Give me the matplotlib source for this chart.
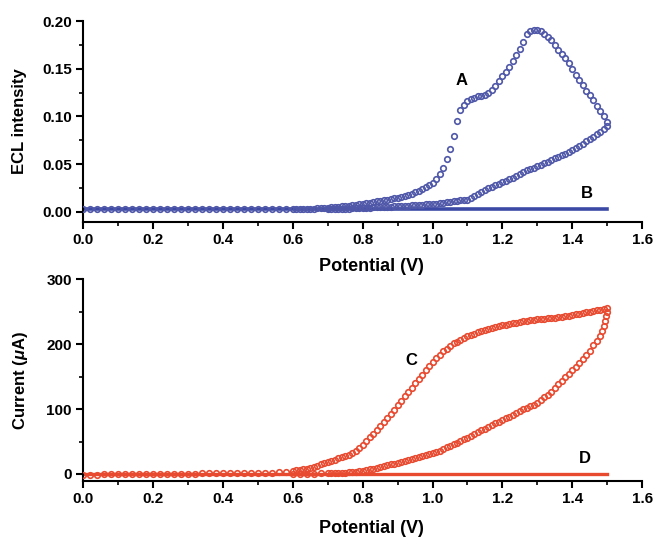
import matplotlib
matplotlib.use('Agg')
import matplotlib.pyplot as plt
import matplotlib.ticker as ticker

plt.rcParams['font.family'] = 'Liberation Sans'
plt.rcParams['font.weight'] = 'bold'
plt.rcParams['mathtext.fontset'] = 'custom'
plt.rcParams['mathtext.it'] = 'Liberation Sans:italic:bold'
plt.rcParams['mathtext.rm'] = 'Liberation Sans:bold'

# ECL curve A: forward scan 0 -> 1.5 V, then reverse 1.5 -> 0.7 V
ecl_a_v = [
    0.00, 0.02, 0.04, 0.06, 0.08, 0.10, 0.12, 0.14, 0.16, 0.18, 0.20, 0.22, 0.24, 0.26, 0.28,
    0.30, 0.32, 0.34, 0.36, 0.38, 0.40, 0.42, 0.44, 0.46, 0.48, 0.50, 0.52, 0.54, 0.56, 0.58,
    0.60, 0.61, 0.62, 0.63, 0.64, 0.65, 0.66, 0.67, 0.68, 0.69, 0.70, 0.71, 0.72, 0.73, 0.74,
    0.75, 0.76, 0.77, 0.78, 0.79, 0.80, 0.81, 0.82, 0.83, 0.84, 0.85, 0.86, 0.87, 0.88, 0.89,
    0.90, 0.91, 0.92, 0.93, 0.94, 0.95, 0.96, 0.97, 0.98, 0.99, 1.00, 1.01, 1.02, 1.03, 1.04,
    1.05, 1.06, 1.07, 1.08, 1.09, 1.10, 1.11, 1.12, 1.13, 1.14, 1.15, 1.16, 1.17, 1.18, 1.19,
    1.20, 1.21, 1.22, 1.23, 1.24, 1.25, 1.26, 1.27, 1.28, 1.29, 1.30, 1.31, 1.32, 1.33, 1.34,
    1.35, 1.36, 1.37, 1.38, 1.39, 1.40, 1.41, 1.42, 1.43, 1.44, 1.45, 1.46, 1.47, 1.48, 1.49,
    1.50,
    1.50, 1.49, 1.48, 1.47, 1.46, 1.45, 1.44, 1.43, 1.42, 1.41, 1.40, 1.39, 1.38, 1.37, 1.36,
    1.35, 1.34, 1.33, 1.32, 1.31, 1.30, 1.29, 1.28, 1.27, 1.26, 1.25, 1.24, 1.23, 1.22, 1.21,
    1.20, 1.19, 1.18, 1.17, 1.16, 1.15, 1.14, 1.13, 1.12, 1.11, 1.10, 1.09, 1.08, 1.07, 1.06,
    1.05, 1.04, 1.03, 1.02, 1.01, 1.00, 0.99, 0.98, 0.97, 0.96, 0.95, 0.94, 0.93, 0.92, 0.91,
    0.90, 0.89, 0.88, 0.87, 0.86, 0.85, 0.84, 0.83, 0.82, 0.81, 0.80, 0.79, 0.78, 0.77, 0.76,
    0.75, 0.74, 0.73, 0.72, 0.71, 0.70]
ecl_a_i = [
    0.003, 0.003, 0.003, 0.003, 0.003, 0.003, 0.003, 0.003, 0.003, 0.003, 0.003, 0.003, 0.003,
    0.003, 0.003, 0.003, 0.003, 0.003, 0.003, 0.003, 0.003, 0.003, 0.003, 0.003, 0.003, 0.003,
    0.003, 0.003, 0.003, 0.003,
    0.003, 0.003, 0.003, 0.003, 0.0032, 0.0034, 0.0035, 0.0037, 0.0039, 0.004, 0.0043, 0.0047,
    0.005, 0.0053, 0.0057, 0.006, 0.0065, 0.007, 0.0075, 0.008, 0.0085, 0.009, 0.0097, 0.0103,
    0.011, 0.0117, 0.0123, 0.013, 0.0137, 0.0143, 0.015, 0.016, 0.017, 0.018, 0.019, 0.0205,
    0.022, 0.024, 0.026, 0.028, 0.030, 0.034, 0.040, 0.046, 0.055, 0.066, 0.080, 0.095, 0.107,
    0.112, 0.116, 0.118, 0.119, 0.121, 0.121, 0.122, 0.125, 0.128, 0.132, 0.137, 0.142, 0.147,
    0.152, 0.158, 0.164, 0.171, 0.178, 0.186, 0.190, 0.191, 0.191, 0.190, 0.186, 0.183, 0.180,
    0.175, 0.170, 0.166, 0.161, 0.156, 0.150, 0.144, 0.138, 0.133, 0.127, 0.122, 0.117, 0.111,
    0.106, 0.100, 0.094,
    0.090, 0.087, 0.084, 0.0815, 0.079, 0.0765, 0.074, 0.0715, 0.069, 0.067, 0.065, 0.063, 0.061,
    0.0595, 0.058, 0.056, 0.054, 0.0525, 0.051, 0.0495, 0.048, 0.0465, 0.045, 0.0435, 0.042,
    0.040, 0.038, 0.036, 0.034, 0.0325, 0.031, 0.0295, 0.028, 0.0265, 0.025, 0.023, 0.021, 0.019,
    0.017, 0.015, 0.013, 0.0125, 0.012, 0.0115, 0.011, 0.0105, 0.010, 0.0095, 0.009, 0.0088,
    0.0085, 0.0082, 0.0078, 0.0075, 0.0072, 0.007, 0.0068, 0.0065, 0.0063, 0.006, 0.0059,
    0.0057, 0.0056, 0.0054, 0.0052, 0.005, 0.0048, 0.0047, 0.0045, 0.0043, 0.0042, 0.004,
    0.0038, 0.0037, 0.0035, 0.0033, 0.0032, 0.003, 0.003, 0.003, 0.003]

# ECL curve B (blank electrode)
ecl_b_v = [0.0, 1.5]
ecl_b_i = [0.0028, 0.0028]

# CV curve C: forward 0 -> 1.5 V, reverse 1.5 -> 0.6 V
cv_c_v = [
    0.00, 0.02, 0.04, 0.06, 0.08, 0.10, 0.12, 0.14, 0.16, 0.18, 0.20, 0.22, 0.24, 0.26, 0.28,
    0.30, 0.32, 0.34, 0.36, 0.38, 0.40, 0.42, 0.44, 0.46, 0.48, 0.50, 0.52, 0.54, 0.56, 0.58,
    0.60, 0.61, 0.62, 0.63, 0.64, 0.65, 0.66, 0.67, 0.68, 0.69, 0.70, 0.71, 0.72, 0.73, 0.74,
    0.75, 0.76, 0.77, 0.78, 0.79, 0.80, 0.81, 0.82, 0.83, 0.84, 0.85, 0.86, 0.87, 0.88, 0.89,
    0.90, 0.91, 0.92, 0.93, 0.94, 0.95, 0.96, 0.97, 0.98, 0.99, 1.00, 1.01, 1.02, 1.03, 1.04,
    1.05, 1.06, 1.07, 1.08, 1.09, 1.10, 1.11, 1.12, 1.13, 1.14, 1.15, 1.16, 1.17, 1.18, 1.19,
    1.20, 1.21, 1.22, 1.23, 1.24, 1.25, 1.26, 1.27, 1.28, 1.29, 1.30, 1.31, 1.32, 1.33, 1.34,
    1.35, 1.36, 1.37, 1.38, 1.39, 1.40, 1.41, 1.42, 1.43, 1.44, 1.45, 1.46, 1.47, 1.48, 1.49,
    1.50,
    1.500, 1.497, 1.494, 1.490, 1.485, 1.478, 1.470, 1.460, 1.45, 1.44, 1.43, 1.42, 1.41, 1.40,
    1.39, 1.38, 1.37, 1.36, 1.35, 1.34, 1.33, 1.32, 1.31, 1.30, 1.29, 1.28, 1.27, 1.26, 1.25,
    1.24, 1.23, 1.22, 1.21, 1.20, 1.19, 1.18, 1.17, 1.16, 1.15, 1.14, 1.13, 1.12, 1.11, 1.10,
    1.09, 1.08, 1.07, 1.06, 1.05, 1.04, 1.03, 1.02, 1.01, 1.00, 0.99, 0.98, 0.97, 0.96, 0.95,
    0.94, 0.93, 0.92, 0.91, 0.90, 0.89, 0.88, 0.87, 0.86, 0.85, 0.84, 0.83, 0.82, 0.81, 0.80,
    0.79, 0.78, 0.77, 0.76, 0.75, 0.74, 0.73, 0.72, 0.71, 0.70, 0.68, 0.66, 0.64, 0.62, 0.60]
cv_c_i = [
    -1, -1, -1, -0.5, -0.5, -0.5, -0.5, 0, 0, 0, 0, 0, 0.5, 0.5, 0.5, 0.5, 0.5, 1, 1, 1, 1, 1,
    1, 1.5, 1.5, 1.5, 2, 2, 2.5, 3,
    5, 5.5, 6, 7, 8, 9, 11, 13, 15, 16.5, 18, 20, 22, 24, 26, 28, 30, 33, 36, 40, 45, 51, 57,
    62, 68, 74, 80, 86, 93, 99, 106, 113, 120, 126, 133, 140, 147, 153, 160, 166, 172, 178,
    184, 189, 193, 197, 201, 204, 207, 210, 212, 214, 216, 218, 220, 221.5, 223, 224.5, 226,
    227.5, 229, 230, 231, 232, 233, 234, 235, 236, 237, 237.5, 238, 238.5, 239, 239.5, 240,
    240.5, 241, 242, 243, 244, 245, 246, 247, 248, 249, 250, 251, 252, 253, 254.5, 256,
    250, 243, 236, 228, 220, 212, 205, 198, 190, 183, 177, 171, 165, 160, 154, 149, 143, 138,
    132, 127, 122, 118, 114, 110, 107, 104, 102, 100, 97, 94, 91, 88, 85.5, 83, 80.5, 78, 75,
    72, 69.5, 67, 64, 61, 58.5, 56, 53.5, 51, 48.5, 46, 43.5, 41, 38.5, 36, 34, 32, 31, 30, 28,
    26, 24.5, 23, 21.5, 20, 18.5, 17, 16, 15, 13.5, 12, 10.5, 9, 8, 7, 6, 5, 4.3, 3.6, 3, 2.6,
    2.3, 2, 1.7, 1.5, 1.2, 1, 0.8, 0.6, 0.5, 0.3, 0]

# CV curve D (blank electrode)
cv_d_v = [0.0, 1.5]
cv_d_i = [0.0, 0.0]

blue = '#4f57a8'
red = '#e84a30'

fig = plt.figure(figsize=(6.54, 5.4), dpi=100)
ax1 = fig.add_axes([0.127, 0.589, 0.855, 0.372])
ax2 = fig.add_axes([0.127, 0.109, 0.855, 0.374])

ax1.plot(ecl_b_v, ecl_b_i, color='#3c4aa6', lw=2.6, zorder=2)
ax1.plot(ecl_a_v, ecl_a_i, ls='none', marker='o', ms=4.0, mfc='none', mec=blue, mew=1.2, zorder=3)

ax2.plot(cv_d_v, cv_d_i, color=red, lw=2.4, zorder=2)
ax2.plot(cv_c_v, cv_c_i, ls='none', marker='o', ms=4.0, mfc='none', mec=red, mew=1.2, zorder=3)

ax1.set_ylim(-0.0105, 0.20)
ax2.set_ylim(-11, 300)

for ax in (ax1, ax2):
    ax.set_xlim(0, 1.6)
    ax.spines['top'].set_visible(False)
    ax.spines['right'].set_visible(False)
    ax.spines['left'].set_linewidth(1.5)
    ax.spines['bottom'].set_linewidth(1.5)
    ax.xaxis.set_major_locator(ticker.MultipleLocator(0.2))
    ax.xaxis.set_minor_locator(ticker.MultipleLocator(0.1))
    ax.xaxis.set_major_formatter(ticker.FormatStrFormatter('%.1f'))
    ax.tick_params(which='major', direction='out', length=5, width=1.5, labelsize=11, pad=3)
    ax.tick_params(which='minor', direction='out', length=3, width=1.2)
    ax.set_xlabel('Potential (V)', fontsize=13, fontweight='bold')

ax1.yaxis.set_major_locator(ticker.MultipleLocator(0.05))
ax1.yaxis.set_minor_locator(ticker.MultipleLocator(0.025))
ax1.yaxis.set_major_formatter(ticker.FormatStrFormatter('%.2f'))
ax2.yaxis.set_major_locator(ticker.MultipleLocator(100))
ax2.yaxis.set_minor_locator(ticker.MultipleLocator(50))

ax1.set_ylabel('ECL intensity', fontsize=12, fontweight='bold')
ax2.set_ylabel('Current ($\\mu$A)', fontsize=12, fontweight='bold')

ax1.xaxis.set_label_coords(0.516, -0.179)
ax2.xaxis.set_label_coords(0.516, -0.193)
ax1.yaxis.set_label_coords(-0.100, 0.5)
ax2.yaxis.set_label_coords(-0.095, 0.5)

ax1.text(1.084, 0.138, 'A', fontsize=12, fontweight='bold', ha='center', va='center')
ax1.text(1.441, 0.0196, 'B', fontsize=12, fontweight='bold', ha='center', va='center')
ax2.text(0.94, 175, 'C', fontsize=12, fontweight='bold', ha='center', va='center')
ax2.text(1.437, 24, 'D', fontsize=12, fontweight='bold', ha='center', va='center')

fig.savefig('out.png', dpi=100)
